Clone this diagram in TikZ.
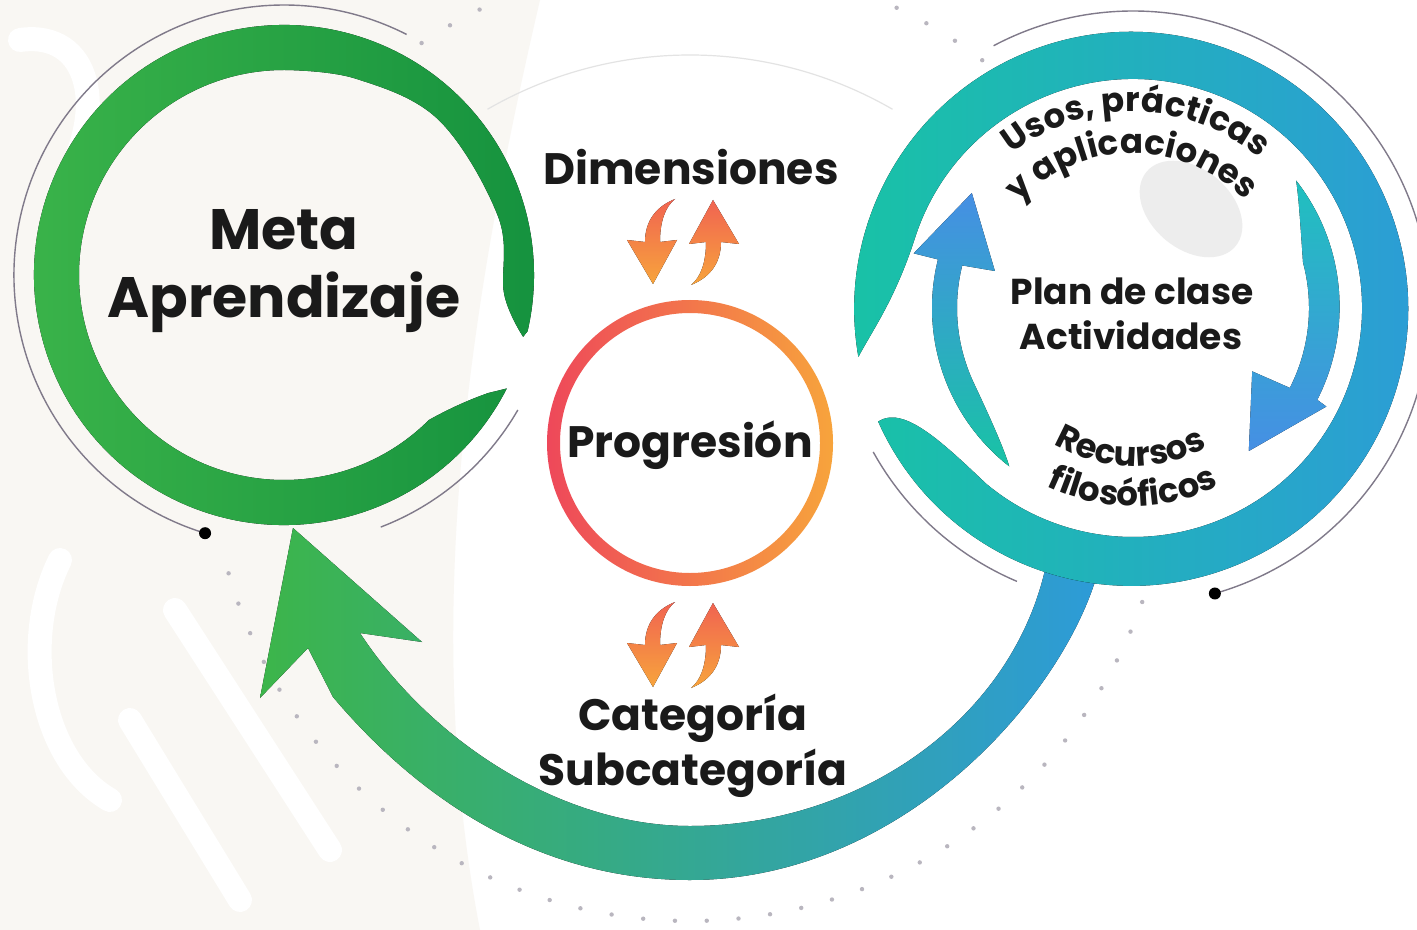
\documentclass[tikz,border=0pt]{standalone}
\usepackage{fontspec}
\setmainfont{Poppins}
\usetikzlibrary{decorations.text}
\definecolor{gLight}{RGB}{60,181,74}
\definecolor{gDark}{RGB}{20,145,62}
\definecolor{teal0}{RGB}{24,195,165}
\definecolor{blue0}{RGB}{45,155,216}
\definecolor{blueA}{RGB}{70,143,228}
\definecolor{cyanA}{RGB}{32,192,190}
\definecolor{red0}{RGB}{238,72,90}
\definecolor{orange0}{RGB}{247,164,60}
\definecolor{thin}{RGB}{128,122,138}
\definecolor{beige}{RGB}{249,247,243}
\definecolor{ink}{RGB}{26,26,26}
\newcommand{\curvefont}{\bfseries\fontsize{17}{19}\selectfont}

\tikzset{swaparrows/.pic={
  \fill[top color=red0!70!orange0, bottom color=orange0]
    (-15,43) .. controls (-35,35) and (-45,20) .. (-45,0) -- (-63,2) -- (-37,-42)
    -- (-13,2) -- (-30,0) .. controls (-30,20) and (-25,35) .. cycle;
  \fill[top color=red0!70!orange0, bottom color=orange0, rotate around={180:(-7,0)}]
    (-15,43) .. controls (-35,35) and (-45,20) .. (-45,0) -- (-63,2) -- (-37,-42)
    -- (-13,2) -- (-30,0) .. controls (-30,20) and (-25,35) .. cycle;
}}

\begin{document}
\begin{tikzpicture}[x=0.5pt, y=0.5pt,
  lbl/.style={font=\bfseries\fontsize{22}{24}\selectfont, text=ink, inner sep=0pt},
  big/.style={lbl, font=\bfseries\fontsize{28.5}{30}\selectfont},
  small/.style={lbl, font=\bfseries\fontsize{18}{20}\selectfont},
  thinline/.style={draw=thin, line width=0.7pt},
  stripe/.style={white, line width=12pt, line cap=round},
  curved/.style={decorate, decoration={text along path, text align=center, text color=ink, text={#1}}},
]
\fill[white] (0,0) rectangle (1417,-930);
\useasboundingbox (0,0) rectangle (1417,-930);

% watermark on the left
\fill[beige] (0,0) -- (540,0) .. controls (470,-300) and (420,-620) .. (480,-930) -- (0,-930) -- cycle;
\draw[stripe] (60,-560) .. controls (20,-640) and (40,-760) .. (110,-800);
\draw[stripe] (175,-610) -- (330,-850);
\draw[stripe] (130,-720) -- (240,-900);
\draw[stripe] (20,-40) .. controls (90,-30) and (110,-110) .. (60,-190);

% faint circle and dots
\draw[gray!22, line width=0.6pt] (690,-460) ++(60:405) arc[start angle=60, end angle=120, radius=405];
\begin{scope}[shift={(690,-441)}]
  \foreach \t in {196,199.8,...,342} \fill[thin!55] (\t:480) circle (2.2);
  \foreach \t in {116,120,124,52.5,56.5,60.5,64.5} \fill[thin!55] (\t:480) circle (2.2);
\end{scope}

% thin arcs round the two rings
\begin{scope}[shift={(284,-275)}]
  \draw[thinline] (253:270) arc[start angle=253, end angle=63, radius=270];
  \fill[thin] (253:270) circle (6);
  \draw[thinline] (-69:270) arc[start angle=-69, end angle=-30, radius=270];
\end{scope}
\begin{scope}[shift={(1133,-308)}]
  \draw[thinline] (-74:297) arc[start angle=-74, end angle=118, radius=297];
  \fill[thin] (-74:297) circle (6);
  \draw[thinline] (209:297) arc[start angle=209, end angle=247, radius=297];
\end{scope}

% big swoosh back to the goal
\fill[left color=gLight, middle color=teal0, right color=blue0]
  (1097,-575) .. controls (1060,-700) and (900,-880) .. (690,-880)
  .. controls (540,-880) and (420,-800) .. (333,-697) -- (308,-648) -- (260,-698)
  -- (293,-528) -- (422,-642) -- (360,-633)
  .. controls (430,-740) and (560,-826) .. (690,-826)
  .. controls (860,-826) and (1010,-720) .. (1045,-570) -- cycle;

% green ring
\begin{scope}[shift={(284,-275)}]
  \fill[left color=gLight, right color=gDark]
    (-27:250) arc[start angle=-27, end angle=-373, radius=250]
    -- plot[smooth, tension=0.6] coordinates {(-14.5:247) (-5:221) (15:222) (45:219) (70:209) (90:205)}
    arc[start angle=90, end angle=315, radius=205]
    .. controls (-38:214) and (-33:226) .. (-30:236) -- cycle;
\end{scope}

% teal ring with its two arrows
\begin{scope}[shift={(1133,-308)}]
  \fill[left color=teal0, right color=blue0]
    (204:279) arc[start angle=204, end angle=550, radius=277]
    .. controls (545:262) and (538:238) .. (522:229)
    arc[start angle=522, end angle=230, radius=229]
    .. controls (214:234) and (203:250) .. cycle;
  \fill[gray!14, rotate around={-40:(58,99)}] (58,99) ellipse[x radius=58, y radius=40];
  \fill[top color=blueA, bottom color=teal0]
    (232:201) arc[start angle=232, end angle=166, radius=201] -- (166:226)
    -- (144.5:198) -- (165:143) -- (166:176) arc[start angle=166, end angle=205, radius=176]
    .. controls (220:182) and (228:192) .. cycle;
  \fill[top color=cyanA, bottom color=blueA]
    (38:207) arc[start angle=38, end angle=-27, radius=205] -- (-27:217)
    -- (-51:184) -- (-28:135) -- (-27:176) arc[start angle=-27, end angle=15, radius=176]
    .. controls (25:185) and (33:198) .. cycle;
  \path[curved={|\curvefont|Usos, prácticas}] (140:196) arc[start angle=140, end angle=38, radius=196];
  \path[curved={|\curvefont|y aplicaciones}] (145:155) arc[start angle=145, end angle=36, radius=155];
  \path[curved={|\curvefont|Recursos}] (220:158) arc[start angle=220, end angle=318, radius=158];
  \path[curved={|\curvefont|filosóficos}] (220:198) arc[start angle=220, end angle=320, radius=198];
\end{scope}

% centre ring
\shade[even odd rule, left color=red0, right color=orange0] (690,-443) circle (143) (690,-443) circle (130);

\pic at (690,-242) {swaparrows};
\pic at (690,-645) {swaparrows};

\node[big, anchor=base] (meta) at (284,-250) {Meta};
\node[big, anchor=base] (aprend) at (284,-318) {Aprendizaje};
\node[lbl, anchor=base] (dim) at (691,-185) {Dimensiones};
\node[lbl, anchor=base] (prog) at (690,-457) {Progresión};
\node[lbl, anchor=base] (cat) at (693,-730) {Categoría};
\node[lbl, anchor=base] (subcat) at (693,-785) {Subcategoría};
\node[small, anchor=base] (plan) at (1132,-305) {Plan de clase};
\node[small, anchor=base] (activ) at (1131,-350) {Actividades};
\end{tikzpicture}
\end{document}
